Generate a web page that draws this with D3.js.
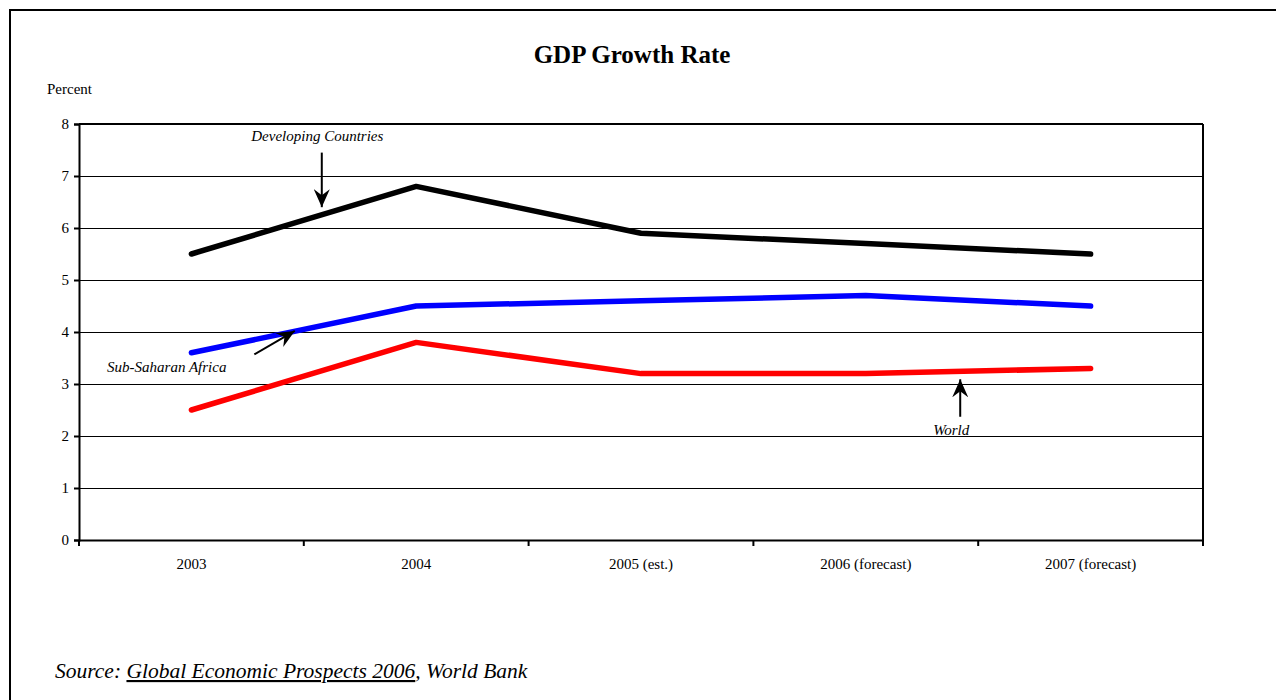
<!DOCTYPE html>
<html><head><meta charset="utf-8">
<script src="https://cdn.jsdelivr.net/npm/d3@7"></script>
<style>body{margin:0;background:#fff}svg{display:block}text{font-family:"Liberation Serif","Times New Roman",serif}</style>
</head><body>
<svg id="c" width="1276" height="700"></svg>
<script>
const categories = ["2003","2004","2005 (est.)","2006 (forecast)","2007 (forecast)"];
const developing = [5.5, 6.8, 5.9, 5.7, 5.5];
const subSaharan = [3.6, 4.5, 4.6, 4.7, 4.5];
const world = [2.5, 3.8, 3.2, 3.2, 3.3];
const yTicks = [0,1,2,3,4,5,6,7,8];
const seriesNames = ["Developing Countries","Sub-Saharan Africa","World"];
const seriesColors = ["#000000","#0000ff","#ff0000"];

const svg = d3.select("#c");
const L=79,R=1203,T=124,B=540;
svg.append("rect").attr("x",10).attr("y",10).attr("width",1300).attr("height",720)
  .attr("fill","none").attr("stroke","#000").attr("stroke-width",2);

const x = d3.scaleBand().domain(categories).range([L,R]);
const xi = d3.scaleLinear().domain([-0.5,4.5]).range([L,R]);
const y = d3.scaleLinear().domain([0,8]).range([B,T]);

svg.append("text").attr("x",632).attr("y",63).attr("text-anchor","middle")
  .attr("font-size",25).attr("font-weight","bold").text("GDP Growth Rate");
svg.append("text").attr("x",47).attr("y",94).attr("font-size",15).text("Percent");

// gridlines
svg.append("g").selectAll("line").data(yTicks.filter(d=>d>0&&d<8)).join("line")
  .attr("x1",L).attr("x2",R).attr("y1",d=>y(d)+0.5).attr("y2",d=>y(d)+0.5)
  .attr("stroke","#000").attr("stroke-width",1).attr("shape-rendering","crispEdges");
// plot border top/right
svg.append("line").attr("x1",L).attr("x2",R).attr("y1",y(8)).attr("y2",y(8)).attr("stroke","#000").attr("stroke-width",2);
svg.append("line").attr("x1",R).attr("x2",R).attr("y1",y(8)).attr("y2",y(0)).attr("stroke","#000").attr("stroke-width",2);

// y axis
const ya = svg.append("g").attr("transform",`translate(${L},0)`)
  .call(d3.axisLeft(y).tickValues(yTicks).tickSize(5).tickPadding(5).tickFormat(d3.format("d")));
ya.select(".domain").attr("stroke-width",2);
ya.selectAll(".tick line").attr("stroke-width",2);
ya.selectAll("text").attr("font-size",15).attr("font-family","Liberation Serif");

// x axis
const xa = svg.append("g").attr("transform",`translate(0,${B})`)
  .call(d3.axisBottom(x).tickSize(0).tickPadding(18));
xa.select(".domain").attr("stroke-width",2);
xa.selectAll("text").attr("font-size",15).attr("font-family","Liberation Serif");
xa.selectAll("line.bt").data(d3.range(0,6)).join("line").attr("class","bt")
  .attr("x1",i=>xi(i-0.5)).attr("x2",i=>xi(i-0.5)).attr("y1",0).attr("y2",6)
  .attr("stroke","#000").attr("stroke-width",2);

// lines
const line = d3.line().x((d,i)=>x(categories[i])+x.bandwidth()/2).y(d=>y(d));
[developing,subSaharan,world].forEach((s,k)=>{
  svg.append("path").datum(s).attr("d",line).attr("fill","none")
    .attr("stroke",seriesColors[k]).attr("stroke-width",5.5)
    .attr("stroke-linejoin","round").attr("stroke-linecap","round");
});

// arrow marker
svg.append("defs").append("marker").attr("id","ah").attr("viewBox","0 0 18 16")
  .attr("refX",18).attr("refY",8).attr("markerWidth",18).attr("markerHeight",16)
  .attr("markerUnits","userSpaceOnUse").attr("orient","auto")
  .append("path").attr("d","M0,0 L18,8 L0,16 L6,8 Z").attr("fill","#000");

// annotations in data coordinates (band index, value)
const annos = [
  {text:seriesNames[0], tx:0.56, ty:7.68, anchor:"middle", a:[[0.58,7.45],[0.58,6.4]]},
  {text:seriesNames[1], tx:-0.375, ty:3.24, anchor:"start", a:[[0.28,3.57],[0.46,4.02]]},
  {text:seriesNames[2], tx:3.38, ty:2.02, anchor:"middle", a:[[3.42,2.37],[3.42,3.09]]}
];
annos.forEach(an=>{
  svg.append("text").attr("x",xi(an.tx)).attr("y",y(an.ty)).attr("text-anchor",an.anchor)
    .attr("font-size",15).attr("font-style","italic").text(an.text);
  svg.append("line").attr("x1",xi(an.a[0][0])).attr("y1",y(an.a[0][1]))
    .attr("x2",xi(an.a[1][0])).attr("y2",y(an.a[1][1]))
    .attr("stroke","#000").attr("stroke-width",2).attr("marker-end","url(#ah)");
});

// source
const src = svg.append("text").attr("x",55).attr("y",678).attr("font-size",21.5).attr("font-style","italic");
src.append("tspan").text("Source: ");
src.append("tspan").attr("text-decoration","underline").text("Global Economic Prospects 2006");
src.append("tspan").text(", World Bank");
</script>
</body></html>
